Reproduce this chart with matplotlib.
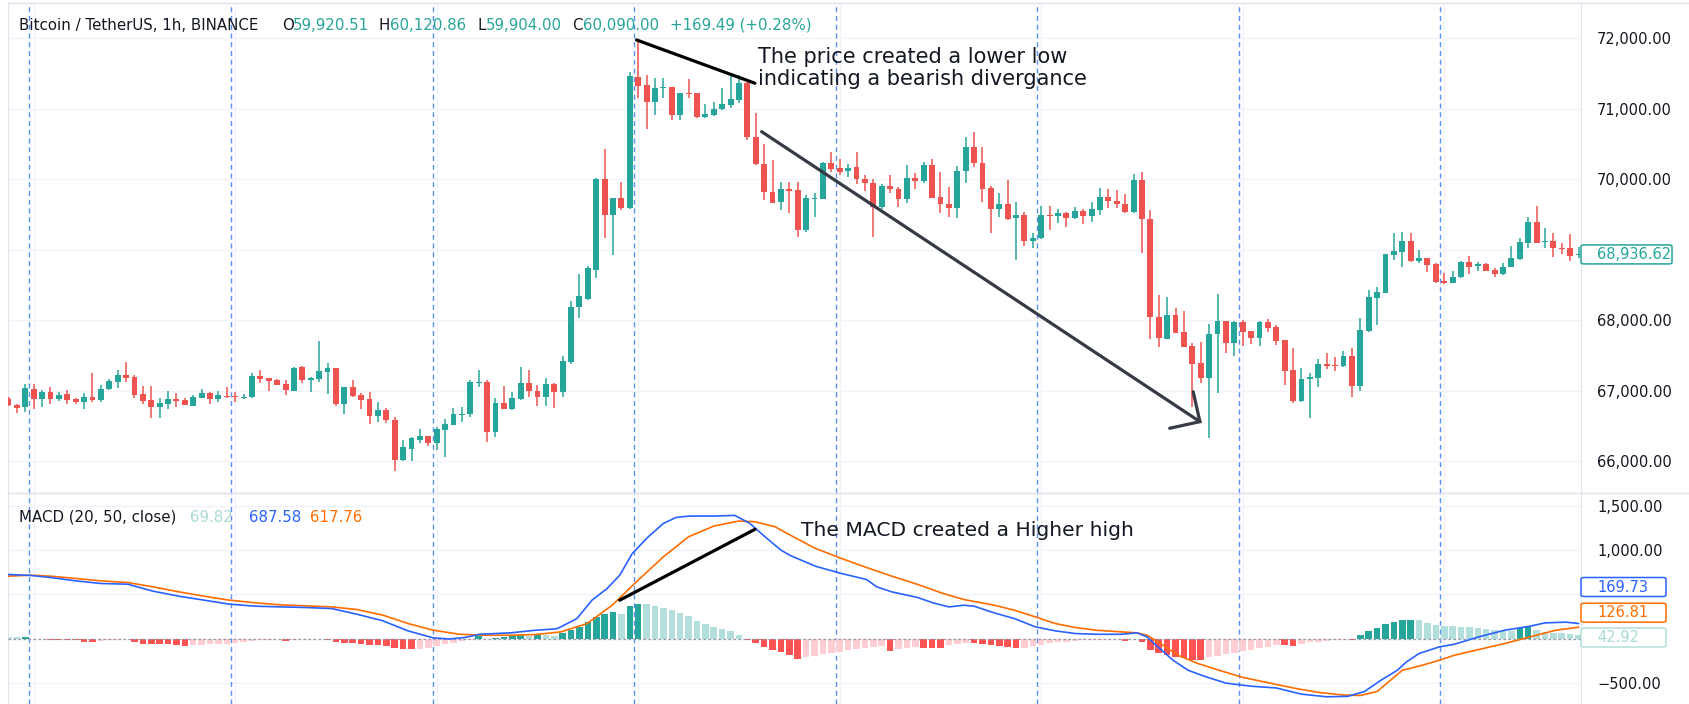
import numpy as np
import matplotlib.pyplot as plt
from matplotlib.lines import Line2D
from matplotlib.patches import FancyBboxPatch

W, H, DPI = 1689, 704, 100
plt.rcParams['font.family'] = ['DejaVu Sans']

# ---------------- price data (BTC/USDT 1h candles) ----------------
opens = [66887, 66802, 66769, 67034, 66882, 66981, 66892, 66953, 66887, 66849,
         66920, 66873, 67024, 67123, 67232, 67199, 66953, 66873, 66778, 66811,
         66892, 66873, 66792, 66906, 66972, 66887, 66934, 66920, 66906, 66911,
         67218, 67185, 67156, 67100, 67005, 67336, 67156, 67171, 67270, 67331,
         66821, 67052, 66939, 66887, 66646, 66726, 66589, 66021, 66180, 66300,
         66362, 66267, 66447, 66518, 66664, 66669, 67118, 67132, 66412, 66825,
         66745, 66887, 67118, 67005, 66920, 67100, 66991, 67416, 68187, 68310,
         68717, 70007, 69497, 69733, 69591, 71459, 71340, 71095, 71300, 71307,
         70915, 71232, 71222, 70887, 70915, 70995, 71057, 71128, 71369, 70608,
         70215, 69827, 69676, 69860, 69851, 69284, 69723, 69723, 70239, 70158,
         70121, 70173, 70012, 69955, 69615, 69908, 69860, 69718, 70026, 69979,
         70201, 69747, 69648, 69591, 70121, 70466, 70239, 69875, 69577, 69648,
         69449, 69501, 69133, 69175, 69501, 69487, 69520, 69449, 69553, 69482,
         69567, 69747, 69700, 69648, 69544, 69993, 69435, 68045, 67738, 68078,
         67832, 67643, 67402, 67189, 67804, 67998, 67676, 67984, 67851, 67747,
         67984, 67903, 67719, 67298, 66863, 67166, 67189, 67379, 67369, 67355,
         67497, 67071, 67856, 68314, 68395, 68925, 68976, 69128, 68844, 68882,
         68801, 68560, 68537, 68612, 68835, 68773, 68801, 68717, 68660, 68754,
         68872, 69104, 69402, 69114, 69128, 69033, 69024, 68934]
highs = [66911, 66811, 67100, 67095, 67015, 67052, 66991, 67019, 66896, 66967,
         67251, 67085, 67166, 67298, 67416, 67232, 67076, 67067, 66906, 67000,
         66967, 66906, 66939, 67024, 66981, 67005, 67052, 66981, 66963, 67251,
         67298, 67185, 67166, 67156, 67336, 67355, 67194, 67710, 67398, 67331,
         67052, 67156, 66967, 66991, 66844, 66755, 66636, 66305, 66352, 66461,
         66362, 66494, 66598, 66754, 66778, 67156, 67298, 67156, 66896, 67071,
         66991, 67345, 67298, 67085, 67180, 67109, 67497, 68277, 68655, 68775,
         70017, 70433, 69742, 69969, 71530, 71979, 71482, 71445, 71445, 71307,
         71232, 71421, 71232, 71076, 71104, 71303, 71482, 71482, 71378, 70939,
         70499, 70272, 69969, 69969, 69969, 69780, 69804, 70243, 70385, 70286,
         70220, 70385, 70059, 70002, 69931, 70059, 69889, 70201, 70087, 70243,
         70286, 70111, 69889, 70192, 70598, 70678, 70466, 69908, 69813, 69993,
         69686, 69544, 69246, 69624, 69624, 69577, 69544, 69605, 69577, 69686,
         69875, 69860, 69851, 69794, 70078, 70111, 69567, 68362, 68328, 68172,
         68130, 67686, 67690, 67950, 68376, 67998, 67998, 68007, 67851, 67998,
         68017, 67932, 67719, 67605, 67322, 67251, 67459, 67535, 67487, 67572,
         67605, 68031, 68433, 68480, 68943, 69236, 69260, 69236, 68999, 68882,
         68811, 68679, 68707, 68844, 68915, 68835, 68811, 68740, 68811, 69062,
         69166, 69473, 69624, 69307, 69246, 69095, 69222, 69048]
lows = [66792, 66684, 66707, 66740, 66778, 66811, 66863, 66811, 66811, 66750,
        66849, 66840, 67015, 67038, 67133, 66906, 66816, 66613, 66617, 66740,
        66769, 66797, 66788, 66896, 66811, 66844, 66896, 66849, 66892, 66906,
        67109, 67005, 67085, 66939, 66996, 67109, 66991, 67123, 66963, 66792,
        66679, 66920, 66745, 66532, 66556, 66542, 65870, 66012, 66012, 66258,
        66220, 66163, 66059, 66518, 66565, 66636, 67062, 66281, 66352, 66745,
        66731, 66872, 66920, 66787, 66787, 66764, 66910, 67383, 68035, 68291,
        68608, 69166, 68929, 69567, 69582, 71151, 70716, 70915, 71161, 70844,
        70844, 71151, 70877, 70868, 70905, 70986, 71010, 71080, 70560, 70206,
        69709, 69662, 69567, 69520, 69189, 69260, 69473, 69719, 70111, 70064,
        70040, 69936, 69842, 69189, 69577, 69804, 69615, 69662, 69860, 69955,
        69733, 69520, 69463, 69449, 69946, 70182, 69686, 69246, 69473, 69426,
        68858, 69062, 69033, 69151, 69284, 69378, 69331, 69440, 69364, 69402,
        69496, 69591, 69591, 69530, 69520, 68953, 67733, 67629, 67733, 67818,
        67629, 66778, 67118, 66330, 66977, 67544, 67501, 67643, 67667, 67643,
        67842, 67652, 67085, 66825, 66849, 66612, 67052, 67307, 67289, 67345,
        66920, 67005, 67842, 67937, 68386, 68858, 68754, 68835, 68811, 68693,
        68537, 68518, 68527, 68608, 68660, 68707, 68707, 68622, 68646, 68754,
        68858, 69033, 69095, 69033, 68896, 68939, 68844, 68882]
closes = [66802, 66764, 67038, 66882, 66986, 66892, 66948, 66877, 66849, 66920,
          66873, 67034, 67138, 67232, 67190, 66939, 66863, 66778, 66825, 66887,
          66863, 66797, 66920, 66967, 66892, 66939, 66911, 66911, 66920, 67218,
          67175, 67147, 67090, 67010, 67331, 67156, 67190, 67284, 67327, 66821,
          67052, 66930, 66873, 66646, 66726, 66589, 66021, 66200, 66330, 66366,
          66267, 66461, 66532, 66669, 66679, 67132, 67132, 66412, 66825, 66745,
          66906, 67118, 66995, 66920, 67100, 66991, 67426, 68196, 68343, 68740,
          70007, 69497, 69742, 69591, 71468, 71326, 71095, 71303, 71308, 70915,
          71222, 71218, 70887, 70924, 71005, 71071, 71142, 71369, 70608, 70215,
          69827, 69672, 69861, 69842, 69284, 69733, 69733, 70239, 70149, 70111,
          70168, 70002, 69955, 69615, 69913, 69860, 69718, 70026, 69983, 70201,
          69742, 69648, 69591, 70125, 70466, 70229, 69870, 69577, 69648, 69440,
          69496, 69133, 69175, 69496, 69487, 69520, 69449, 69553, 69482, 69577,
          69747, 69695, 69648, 69544, 69993, 69435, 68045, 67747, 68078, 67828,
          67629, 67388, 67189, 67804, 67998, 67676, 67984, 67842, 67747, 67984,
          67898, 67709, 67284, 66863, 67171, 67194, 67383, 67360, 67355, 67497,
          67071, 67865, 68329, 68409, 68939, 68986, 69128, 68844, 68882, 68787,
          68551, 68537, 68622, 68835, 68764, 68797, 68707, 68660, 68764, 68882,
          69109, 69402, 69104, 69128, 69024, 69014, 68920, 68937]

# ---------------- MACD (20, 50, close) ----------------
hist = [18, 16, 22, -8, -10, -12, -15, -19, -22, -35,
        -38, -27, -20, -12, -8, -38, -57, -65, -66, -67,
        -76, -80, -72, -68, -65, -60, -57, -50, -40, -30,
        -20, -13, -10, -25, -12, -8, -5, -4, -19, -38,
        -50, -51, -58, -68, -70, -87, -112, -120, -123, -115,
        -102, -80, -65, -50, -32, -12, 24, -10, 8, 12,
        30, 38, 34, 40, 35, 33, 64, 94, 132, 189,
        245, 276, 295, 283, 366, 389, 388, 370, 345, 322,
        288, 255, 200, 160, 130, 105, 90, 45, -20, -55,
        -95, -125, -150, -185, -228, -210, -195, -180, -165, -150,
        -135, -120, -105, -95, -90, -145, -120, -110, -95, -105,
        -110, -112, -75, -60, -50, -55, -62, -75, -85, -100,
        -112, -105, -85, -70, -55, -45, -35, -25, -20, -15,
        -12, -10, -8, -28, -10, -35, -130, -165, -185, -205,
        -225, -238, -245, -215, -195, -180, -160, -140, -125, -110,
        -95, -70, -78, -82, -60, -45, -35, -28, -22, -15,
        -20, 40, 85, 120, 160, 190, 205, 215, 207, 180,
        155, 142, 138, 134, 128, 118, 105, 96, 88, 84,
        120, 132, 94, 78, 66, 58, 50, 43]

macd_x = [0, 2.6, 5, 8, 11, 14.2, 17.2, 20.3, 23.3, 26.3, 29.4, 32.4, 35.4, 38.5,
          41.5, 44.6, 47.6, 50.6, 52.5, 54.3, 56.1, 59.8, 62.8, 65.2, 65.8, 67.7,
          69.5, 71.3, 72.8, 74.3, 76.2, 78, 79.5, 81, 84, 86.5, 88.3, 90.1, 92,
          93.1, 96.1, 99.2, 102.2, 103.4, 105.2, 108.3, 110.1, 112, 113.8, 115,
          117.4, 119.8, 122.3, 124.7, 127.1, 129.5, 132.6, 134.4, 135.6, 136.9,
          138.7, 140.5, 142.5, 145, 148, 151, 154, 157, 159.5, 161.5, 163.5,
          165.4, 166.5, 168, 170.4, 172.2, 175.1, 178.2, 181.2, 183, 185.5, 187]
macd_v = [725, 714, 691, 653, 623, 615, 536, 479, 434, 389, 366, 358, 351, 339,
          275, 200, 86, 7, -5, 11, 48, 64, 94, 109, 132, 226,
          434, 566, 717, 963, 1152, 1303, 1370, 1386, 1386, 1394, 1303, 1152, 1001,
          940, 819, 736, 668, 585, 528, 464, 404, 358, 377, 366,
          290, 226, 132, 86, 56, 48, 48, 64, 18, -95,
          -246, -360, -430, -505, -540, -560, -630, -660, -655, -600, -470,
          -360, -265, -170, -95, -65, 18, 94, 139, 177, 185, 170]
signal_x = [0, 2.6, 5, 8, 11, 14.2, 17.2, 20.3, 23.3, 26.3, 29.4, 32.4, 35.4, 38.5,
            41.5, 44.6, 47.6, 50.6, 53.7, 56.7, 59.8, 62.8, 65.8, 68.9, 71.9, 75,
            78, 81, 84, 87, 88.9, 91.3, 93.1, 96.1, 99.2, 102.2, 105.2, 108.3,
            111.3, 113.8, 117.4, 119.8, 122.3, 124.7, 127.1, 129.5, 132.6, 134.4,
            135.6, 136.9, 139.3, 141.7, 144.2, 147, 150, 153, 156, 159, 161,
            163, 166, 168.5, 170.4, 172.2, 175.1, 178.2, 181.2, 184.3, 187]
signal_v = [706, 717, 706, 680, 653, 634, 585, 528, 479, 434, 404, 381, 370, 358,
            328, 264, 169, 94, 48, 37, 37, 45, 75, 169, 377, 661,
            925, 1152, 1273, 1330, 1322, 1265, 1171, 1020, 906, 804, 706, 612,
            510, 441, 377, 321, 245, 169, 124, 94, 75, 64,
            37, -38, -190, -284, -360, -440, -500, -560, -610, -640, -645,
            -600, -360, -300, -246, -190, -125, -57, 18, 94, 127]

legend_vals = ['69.82', '687.58', '617.76']
price_ticks = [66000, 67000, 68000, 69000, 70000, 71000, 72000]
macd_ticks = [-500, 0, 500, 1000, 1500]
macd_tick_labels = ['\u2212500.00', '', '', '1,000.00', '1,500.00']
session_breaks = [2.5, 26.5, 50.5, 74.5, 98.5, 122.5, 146.5, 170.5]
day_grid = [3, 27, 51, 75, 99, 123, 147, 171]

# drawn annotations (candle index, value)
top_line = ([74.8, 88.9], [71979, 71365])
arrow_line = ([89.7, 141.9], [70678, 66565])
arrow_head = ([141.1, 141.9, 138.3], [66989, 66565, 66471])
macd_line = ([72.8, 88.9], [434, 1236])

UP, DOWN = '#26a69a', '#ef5350'
GRID = '#f0f3fa'
BORDER = '#e0e3eb'
TXT = '#131722'


def fx(x):
    return x / W


def fy(y):
    return 1 - y / H


fig = plt.figure(figsize=(W / DPI, H / DPI), dpi=DPI)
ax1 = fig.add_axes([fx(8), fy(493), (1581 - 8) / W, (493 - 3) / H])
ax2 = fig.add_axes([fx(8), 0, (1581 - 8) / W, (704 - 493) / H])

idx = np.arange(len(closes))
o, h, l, c = map(np.array, (opens, highs, lows, closes))
col = np.where(c >= o, UP, DOWN)
ax1.vlines(idx, l, h, colors=col, lw=1.1, zorder=3)
ax1.bar(idx, np.maximum(np.abs(c - o), 14), 0.7, bottom=np.minimum(o, c),
        color=col, lw=0, zorder=4)

hv = np.array(hist, dtype=float)
prev = np.r_[hv[0] + 1, hv[:-1]]
hcol = np.where(hv >= 0, np.where(hv > prev, '#26a69a', '#b2dfdb'),
                np.where(hv > prev, '#ffcdd2', '#ff5252'))
ax2.bar(idx, hv, 0.78, color=hcol, lw=0, zorder=2)
ax2.axhline(0, color='#9598a1', lw=0.9, ls=(0, (2, 2)), zorder=3)
ax2.plot(signal_x, signal_v, color='#ff6d00', lw=1.2, zorder=4)
ax2.plot(macd_x, macd_v, color='#2962ff', lw=1.2, zorder=5)

for ax in (ax1, ax2):
    ax.set_xlim(-0.06, 187.29)
    ax.set_xticks(day_grid)
    ax.tick_params(axis='x', length=0, labelbottom=False)
    ax.grid(True, color=GRID, lw=1, zorder=0)
    ax.set_axisbelow(True)
    for s in ax.spines.values():
        s.set_color(BORDER)
    for b in session_breaks:
        ax.axvline(b, color='#5b8ff7', lw=1.0, ls=(0, (3.6, 2.7)), zorder=1)
    ax.yaxis.tick_right()
    ax.tick_params(axis='y', length=0, pad=11.5, labelsize=10.5, labelcolor=TXT)

ax1.set_ylim(65553, 72503)
ax1.set_yticks(price_ticks)
ax1.set_yticklabels(['' if v == 69000 else f'{v:,.2f}' for v in price_ticks])
ax2.set_ylim(-741.5, 1647.4)
ax2.set_yticks(macd_ticks)
ax2.set_yticklabels(macd_tick_labels)

ax1.plot(*top_line, color='black', lw=2.3, solid_capstyle='round', zorder=6)
ax1.plot(*arrow_line, color='#363a45', lw=2.3, solid_capstyle='round', zorder=6)
ax1.plot(*arrow_head, color='#363a45', lw=2.3, solid_capstyle='round',
         solid_joinstyle='miter', zorder=6)
ax2.plot(*macd_line, color='black', lw=2.3, solid_capstyle='round', zorder=6)

# separators spanning into the price scale
fig.add_artist(Line2D([fx(8), 1], [fy(493), fy(493)], color=BORDER, lw=1))
fig.add_artist(Line2D([fx(8), 1], [fy(3), fy(3)], color=BORDER, lw=1))

# header
hdr_y = fy(25)
fig.text(fx(19), hdr_y, 'Bitcoin / TetherUS, 1h, BINANCE', color=TXT,
         fontsize=10.8, va='center')
for letter, lx, val, vx in [('O', 282, '59,920.51', 293), ('H', 379, '60,120.86', 390),
                            ('L', 477, '59,904.00', 486), ('C', 572, '60,090.00', 583)]:
    fig.text(fx(lx), hdr_y, letter, color=TXT, fontsize=10.8, va='center')
    fig.text(fx(vx), hdr_y, val, color=UP, fontsize=10.8, va='center')
fig.text(fx(670), hdr_y, '+169.49 (+0.28%)', color=UP, fontsize=10.8, va='center')

# MACD legend
leg_y = fy(517)
fig.text(fx(19), leg_y, 'MACD (20, 50, close)', color=TXT, fontsize=10.8, va='center')
for val, vx, vc in zip(legend_vals, [190, 249, 310], ['#a8dad3', '#2962ff', '#ff6d00']):
    fig.text(fx(vx), leg_y, val, color=vc, fontsize=10.8, va='center')

# notes
fig.text(fx(758), fy(68), 'The price created a lower low\nindicating a bearish divergance',
         color=TXT, fontsize=15, va='center', linespacing=1.08)
fig.text(fx(801), fy(531), 'The MACD created a Higher high', color=TXT,
         fontsize=14.6, va='center')


def value_box(yc_px, w, text, edge, tcol):
    hb = 19
    fig.add_artist(FancyBboxPatch((fx(1581), fy(yc_px + hb / 2)), w / W, hb / H,
                                  boxstyle='round,pad=0,rounding_size=0.002',
                                  transform=fig.transFigure, fc='white', ec=edge, lw=1.1))
    fig.text(fx(1597), fy(yc_px), text, color=tcol, fontsize=10.5, va='center')


fig.canvas.draw()
last_px = H - ax1.transData.transform((0, closes[-1]))[1]
value_box(last_px, 91, '68,936.62', UP, UP)
value_box(587, 85, '169.73', '#2962ff', '#2962ff')
value_box(612.7, 85, '126.81', '#ff6d00', '#ff6d00')
value_box(637.5, 85, '42.92', '#b2dfdb', '#a8dad3')

fig.savefig('out.png', dpi=DPI)
